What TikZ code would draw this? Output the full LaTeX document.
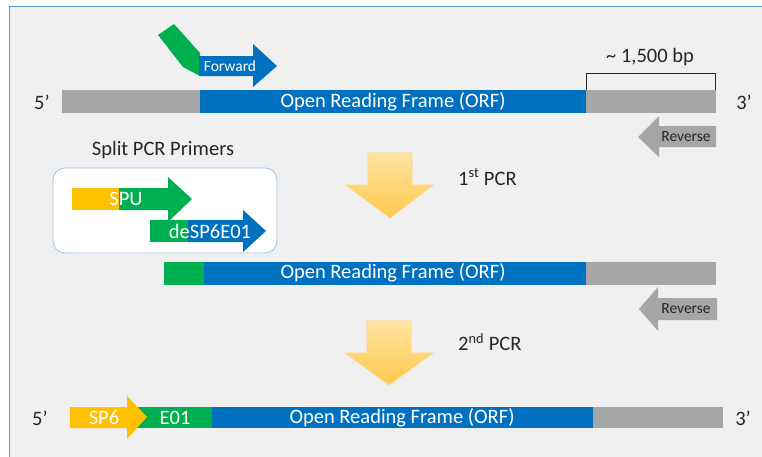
\documentclass[tikz,border=0pt]{standalone}
\usepackage{fontspec}
\setmainfont{Carlito}
\usetikzlibrary{shapes.geometric}
\definecolor{bgc}{HTML}{F0F0F0}
\definecolor{bord}{HTML}{5B9BD5}
\definecolor{orfb}{HTML}{0070C0}
\definecolor{grn}{HTML}{00B050}
\definecolor{ylw}{HTML}{FFC000}
\definecolor{gry}{HTML}{A6A6A6}
\definecolor{txt}{HTML}{262626}
\definecolor{boxb}{HTML}{9DC3E6}
\definecolor{arrt}{HTML}{FFE3A0}
\definecolor{arrb}{HTML}{FFC94D}
\definecolor{arrl}{HTML}{FFD97A}
\tikzset{
  lbl/.style={font=\fontsize{20.5}{24}\selectfont, text=txt, inner sep=0pt},
  wlbl/.style={font=\fontsize{20.5}{24}\selectfont, text=white, inner sep=0pt},
  slbl/.style={font=\fontsize{15.5}{18}\selectfont, inner sep=0pt},
  pcrarrow/.style={top color=arrt, bottom color=arrb, draw=arrl, line width=0.6pt},
}
\begin{document}
\begin{tikzpicture}[x=1pt,y=-1pt]
\useasboundingbox (0,0) rectangle (762,456);
% background panel
\fill[bgc] (9,6) rectangle (770,470);
\draw[bord, line width=1pt] (9,470) -- (9,6) -- (770,6);

% ---------- Row 1 ----------
\fill[gry] (62,90) rectangle (716,113);
\fill[orfb] (200,90) rectangle (586,113);
\node[wlbl] (orf1) at (393,102) {Open Reading Frame (ORF)};
\node[lbl] (p5a) at (42,102) {5’};
\node[lbl] (p3a) at (744,102) {3’};
% bracket
\draw[txt, line width=0.7pt] (586,90) -- (586,73) -- (715,73) -- (715,90);
\node[lbl] (bp) at (650,57) {\textasciitilde\ 1,500 bp};
% forward primer
\fill[grn] (174,24) -- (200,53) -- (200,76) -- (183,67) -- (158,35) -- cycle;
\fill[orfb] (199,56) -- (253,56) -- (253,44) -- (277,66) -- (253,87) -- (253,76) -- (199,76) -- cycle;
\node[slbl, text=white] (fwd) at (230,66) {Forward};
% reverse primer 1
\fill[gry] (716,126) -- (659,126) -- (659,116) -- (638,137) -- (659,157) -- (659,147) -- (716,147) -- cycle;
\node[slbl, text=txt] (rev1) at (686,137) {Reverse};

% ---------- Split primers ----------
\node[lbl] (split) at (163,150) {Split PCR Primers};
\draw[boxb, fill=white, line width=0.8pt, rounded corners=12pt] (53,168) rectangle (277,253);
% SPU
\fill[ylw] (72,188) rectangle (120,210);
\fill[grn] (119,188) -- (168,188) -- (168,177) -- (192,199) -- (168,222) -- (168,210) -- (119,210) -- cycle;
\node[wlbl] (spu) at (126,199) {SPU};
% deSP6E01
\fill[grn] (150,220) rectangle (189,242);
\fill[orfb] (188,220) -- (243,220) -- (243,210) -- (266,231) -- (243,252) -- (243,242) -- (188,242) -- cycle;
\node[wlbl] (desp) at (210,231) {deSP6E01};

% ---------- 1st PCR arrow ----------
\shade[pcrarrow] (368,153) -- (412,153) -- (412,185) -- (433,185) -- (390,218) -- (346,185) -- (368,185) -- cycle;
\node[lbl, anchor=west] (pcr1) at (458,177) {1\textsuperscript{st} PCR};

% ---------- Row 2 ----------
\fill[gry] (164,262) rectangle (716,285);
\fill[orfb] (203,262) rectangle (586,285);
\fill[grn] (164,262) rectangle (204,285);
\node[wlbl] (orf2) at (393,273) {Open Reading Frame (ORF)};
\fill[gry] (717,298) -- (658,298) -- (658,287) -- (639,309) -- (658,331) -- (658,320) -- (717,320) -- cycle;
\node[slbl, text=txt] (rev2) at (686,309) {Reverse};

% ---------- 2nd PCR arrow ----------
\shade[pcrarrow] (367,321) -- (411,321) -- (411,353) -- (433,353) -- (389,385) -- (345,353) -- (367,353) -- cycle;
\node[lbl, anchor=west] (pcr2) at (458,342) {2\textsuperscript{nd} PCR};

% ---------- Row 3 ----------
\fill[gry] (211,407) rectangle (723,428);
\fill[orfb] (211,407) rectangle (593,428);
\fill[grn] (125,407) rectangle (212,428);
\fill[ylw] (70,407) -- (127,407) -- (127,396) -- (147,417) -- (127,439) -- (127,428) -- (70,428) -- cycle;
\node[wlbl] (sp6) at (104,418) {SP6};
\node[wlbl] (e01) at (175,418) {E01};
\node[wlbl] (orf3) at (402,418) {Open Reading Frame (ORF)};
\node[lbl] (p5c) at (40,418) {5’};
\node[lbl] (p3c) at (743,418) {3’};
\end{tikzpicture}
\end{document}
